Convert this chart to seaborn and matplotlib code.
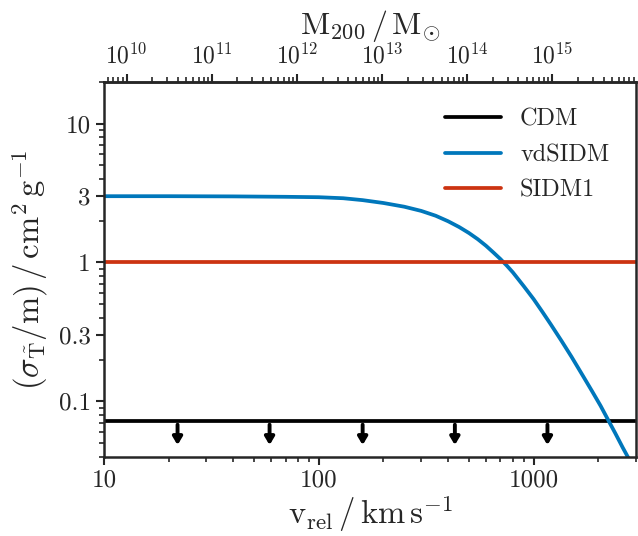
import numpy as np
import pandas as pd
import seaborn as sns
import matplotlib
matplotlib.use("Agg")
import matplotlib.pyplot as plt
from matplotlib.ticker import FixedLocator, FixedFormatter, LogLocator, NullFormatter

# values
v_rel = [10, 20, 40, 70, 100, 130, 160, 200, 250, 300, 350, 400, 450, 500,
         550, 600, 650, 700, 750, 800, 900, 1000, 1100, 1200, 1350, 1500,
         1700, 1874, 2050, 2213, 2400, 2600, 2730, 3000]
sigma_vd = [3.00, 3.00, 2.99, 2.97, 2.95, 2.90, 2.81, 2.68, 2.52, 2.35, 2.17,
            1.98, 1.80, 1.63, 1.47, 1.32, 1.18, 1.06, 0.95, 0.85, 0.675, 0.545,
            0.44, 0.36, 0.272, 0.21, 0.152, 0.118, 0.093, 0.0745, 0.059,
            0.0465, 0.0405, 0.031]
v_span = [10, 3000]
sigma_sidm1 = [1.0, 1.0]
sigma_cdm = [0.0717, 0.0717]
arrow_v = [22, 59, 160, 430, 1160]

lines = pd.concat([
    pd.DataFrame({"v": v_span, "s": sigma_cdm, "model": "CDM"}),
    pd.DataFrame({"v": v_rel, "s": sigma_vd, "model": "vdSIDM"}),
    pd.DataFrame({"v": v_span, "s": sigma_sidm1, "model": "SIDM1"}),
], ignore_index=True)
palette = {"CDM": "black", "vdSIDM": "#0077BB", "SIDM1": "#CC3311"}

sns.set_style("ticks")
plt.rcParams["font.family"] = "serif"
plt.rcParams["font.serif"] = ["cmr10"]
plt.rcParams["mathtext.fontset"] = "cm"
plt.rcParams["axes.unicode_minus"] = False

fig = plt.figure(figsize=(6.38, 5.36), dpi=100)
ax = fig.add_axes([0.163, 0.148, 0.834, 0.6995])

sns.lineplot(data=lines, x="v", y="s", hue="model", palette=palette,
             linewidth=2.7, ax=ax, sort=False, estimator=None)
ax.set_xscale("log")
ax.set_yscale("log")
ax.set_xlim(10, 3000)
ax.set_ylim(0.04, 20)

for v in arrow_v:
    ax.annotate("", xy=(v, 0.0485), xytext=(v, 0.068),
                arrowprops=dict(arrowstyle="-|>,head_width=0.27,head_length=0.45",
                                color="black", lw=2.8, shrinkA=0, shrinkB=0))

# ticks
ax.xaxis.set_major_locator(FixedLocator([10, 100, 1000]))
ax.xaxis.set_major_formatter(FixedFormatter(["10", "100", "1000"]))
ax.xaxis.set_minor_locator(LogLocator(base=10, subs=np.arange(2, 10)))
ax.xaxis.set_minor_formatter(NullFormatter())
ax.yaxis.set_major_locator(FixedLocator([0.1, 0.3, 1, 3, 10]))
ax.yaxis.set_major_formatter(FixedFormatter(["0.1", "0.3", "1", "3", "10"]))
ax.yaxis.set_minor_locator(LogLocator(base=10, subs=[2, 4, 5, 6, 7, 8, 9]))
ax.yaxis.set_minor_formatter(NullFormatter())
ax.tick_params(which="major", direction="out", length=6, width=1.5, labelsize=18)
ax.tick_params(which="minor", direction="out", length=3.5, width=1.2)
for s in ax.spines.values():
    s.set_linewidth(1.8)

# halo mass axis on top
def v_to_m(v):
    v = np.clip(np.asarray(v, dtype=float), 1e-3, None)
    return 1e10 * (v / 12.75) ** 2.5234

def m_to_v(m):
    m = np.clip(np.asarray(m, dtype=float), 1e-3, None)
    return 12.75 * (m / 1e10) ** (1 / 2.5234)

top = ax.secondary_xaxis("top", functions=(v_to_m, m_to_v))
top.set_xscale("log")
top.xaxis.set_major_locator(FixedLocator([1e10, 1e11, 1e12, 1e13, 1e14, 1e15]))
top.xaxis.set_major_formatter(FixedFormatter([r"$10^{%d}$" % e for e in range(10, 16)]))
top.xaxis.set_minor_locator(LogLocator(base=10, subs=np.arange(2, 10), numticks=30))
top.xaxis.set_minor_formatter(NullFormatter())
top.tick_params(which="major", direction="out", length=6, width=1.5, labelsize=17)
top.tick_params(which="minor", direction="out", length=3.5, width=1.2)
top.spines["top"].set_linewidth(1.8)
top.set_xlabel(r"$\mathrm{M_{200}\,/\,M_{\odot}}$", fontsize=23, labelpad=7)

ax.set_xlabel(r"$\mathrm{v_{rel}\,/\,km\,s^{-1}}$", fontsize=23.5, labelpad=1)
ax.set_ylabel(r"$(\sigma_{\tilde{\mathrm{T}}}/\mathrm{m})\,/\,\mathrm{cm^2\,g^{-1}}$",
              fontsize=23.5, labelpad=6)

leg = ax.legend(loc="upper right", frameon=False, fontsize=17.5, handlelength=2.3,
                handletextpad=0.8, labelspacing=0.55, borderaxespad=0.7)
leg.set_title(None)

fig.savefig("out.png", dpi=100)
